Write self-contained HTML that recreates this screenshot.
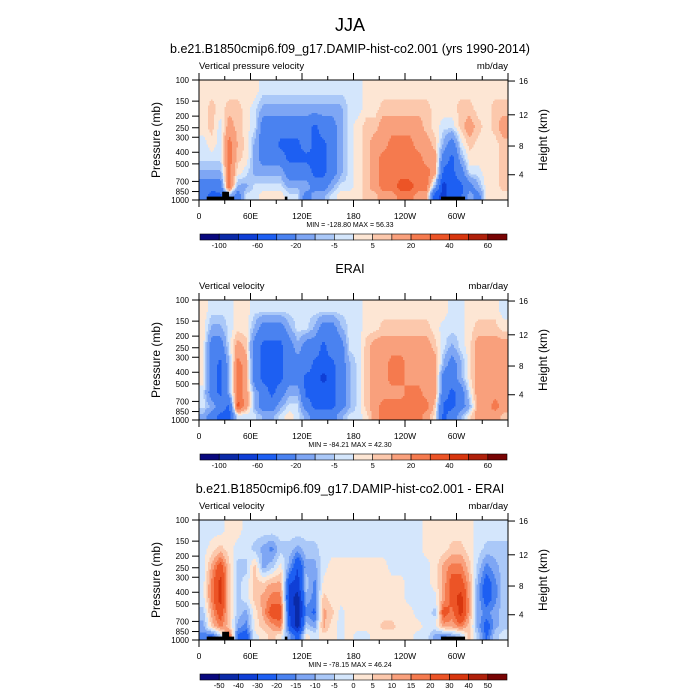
<!DOCTYPE html>
<html><head><meta charset="utf-8"><style>
html,body{margin:0;padding:0;background:#fff}
svg{display:block;font-family:"Liberation Sans",sans-serif}
</style></head><body>
<svg id="fig" width="700" height="700" viewBox="0 0 700 700">
<text x="350" y="31" text-anchor="middle" font-size="18">JJA</text>
</svg>
<script>
// ---- data ----
const colors = ["#08087e","#0a2aa8","#0f3fd6","#1d5ff2","#4a82f0","#7ea6f4","#aac8f8","#d4e6fc","#fde6d4","#fcc8ac","#f9a07c","#f57a4e","#ec5426","#d8360e","#b0200a","#780404"];
const levelsAbs = [-100,-80,-60,-40,-20,-10,-5,0,5,10,20,30,40,50,60];
const labelsAbs = ["-100","","-60","","-20","","-5","","5","","20","","40","","60"];
const levelsDiff = [-50,-40,-30,-20,-15,-10,-5,0,5,10,15,20,30,40,50];
const labelsDiff = ["-50","-40","-30","-20","-15","-10","-5","0","5","10","15","20","30","40","50"];
const pressureEdges = [100,150,200,300,400,500,700,850,1000];
const pTicks = [100,150,200,250,300,400,500,700,850,1000];
const hTicks = [4,8,12,16];
const hTickP = [616,355,195,102];
const lonTicks = [0,60,120,180,240,300];
const lonLabels = ["0","60E","120E","180","120W","60W"];
// columns: 10-degree bins 0..360; each row lists values from 100mb (top) to 1000mb
const model = [
[3,3,3,-3,-3,-12,-30,-30],[3,7,7,3,-3,-12,-30,-50],[3,3,-3,-3,-3,-12,-30,-45],[3,7,15,25,25,25,30,-12],
[3,7,7,10,7,3,-12,-30],[3,3,3,3,3,-3,-12,-3],[3,-3,-3,-12,-12,-12,-3,-3],[-3,-12,-30,-30,-30,-12,-3,3],
[-3,-12,-30,-30,-30,-12,-3,3],[-3,-12,-30,-45,-30,-12,-3,3],[-3,-12,-30,-45,-45,-30,-12,-3],[-3,-12,-30,-45,-45,-30,-12,-3],
[-3,-12,-30,-30,-45,-30,-12,-30],[-3,-12,-45,-45,-45,-45,-30,-12],[-3,-12,-30,-45,-45,-45,-30,-12],[-3,-12,-30,-30,-30,-30,-12,-3],
[-3,-12,-12,-12,-12,-12,-3,3],[-3,-3,-3,-3,-3,-3,-3,3],[-3,-3,3,3,3,3,3,3],[3,3,7,7,7,7,7,7],
[3,3,7,15,15,15,15,7],[3,7,15,15,25,25,25,15],[3,7,15,25,25,25,25,15],[3,7,15,25,25,25,35,25],
[3,7,15,25,25,25,35,25],[3,7,15,15,25,25,25,15],[3,7,7,15,15,25,25,15],[3,3,3,7,15,15,-12,-50],
[3,3,-3,-12,-30,-45,-70,-70],[3,3,-3,-30,-45,-45,-45,-45],[3,7,7,-3,-12,-30,-45,-45],[3,7,15,7,3,-3,-30,-12],
[3,3,7,3,3,-3,-12,-30],[3,3,3,3,3,3,3,3],[3,7,7,3,3,3,3,3],[3,7,15,7,7,7,7,3]];
const erai = [
[3,3,3,3,3,-3,-3,-12],[-3,-12,-30,-30,-30,-30,-12,-30],[-3,-12,-30,-45,-45,-45,-30,-45],[-3,-3,-3,-12,-12,-12,-45,-45],
[3,3,15,25,25,25,35,-3],[3,3,7,15,15,15,15,-3],[-3,-12,-30,-30,-30,-12,-12,-3],[-3,-30,-45,-45,-45,-30,-30,-12],
[-3,-30,-45,-45,-45,-45,-30,-12],[-3,-30,-45,-45,-45,-30,-12,-3],[-3,-12,-30,-30,-30,-12,-3,3],[-3,-3,-12,-30,-30,-12,-3,-3],
[-3,-3,-30,-30,-45,-45,-30,-12],[-3,-12,-30,-45,-45,-45,-45,-30],[-3,-30,-45,-45,-70,-45,-45,-30],[-3,-30,-30,-45,-45,-45,-45,-30],
[-3,-12,-30,-30,-30,-30,-30,-12],[-3,-3,-3,-12,-12,-12,-12,-3],[-3,-3,-3,-3,-3,-3,-3,-3],[3,3,7,7,7,7,7,3],
[3,3,15,15,15,15,15,15],[3,7,15,15,15,15,25,25],[3,7,15,25,25,15,25,25],[3,7,15,25,25,15,25,25],
[3,7,15,15,15,25,25,25],[3,7,15,15,15,25,25,25],[3,7,15,15,15,15,25,15],[3,3,7,15,15,15,7,3],
[3,-3,-3,-12,-30,-30,-45,-45],[-3,-3,-12,-30,-30,-45,-45,-30],[-3,-3,-3,-12,-12,-30,-30,-12],[3,3,3,3,3,-3,-12,3],
[3,7,15,15,15,15,15,15],[3,7,15,15,15,15,15,15],[3,7,15,15,15,15,25,15],[-3,3,15,15,15,15,15,7]];
const diff = [
[-2,-2,-2,-2,-2,-7,-12,-17],[-2,2,12,17,17,12,7,-22],[-2,7,25,35,35,25,17,-7],[2,2,7,7,7,7,7,25],
[2,-2,-7,-7,-7,-7,-12,-22],[-2,-2,-7,-2,-2,-12,-17,-25],[-2,-7,7,7,7,2,2,-2],[-2,-12,-12,7,12,12,7,2],
[-2,-17,-7,12,17,25,12,7],[-2,-7,2,12,17,25,17,2],[-2,-7,-12,-30,-35,-30,-25,-12],[-2,-12,-30,-35,-45,-45,-45,-25],
[-2,-7,-12,-7,-12,-17,-7,2],[-2,-7,-12,-17,-17,-22,-12,-2],[-2,-2,-2,2,7,12,12,2],[-2,-2,2,2,2,7,2,2],
[-2,-2,2,2,2,-2,-2,-2],[-2,-2,2,2,2,2,2,2],[-2,-2,2,2,2,2,2,-2],[-2,-2,2,2,2,2,2,-2],
[-2,-2,2,2,2,2,2,2],[-2,-2,2,2,2,2,7,2],[-2,-2,-2,2,2,2,7,2],[-2,-2,-2,2,2,2,2,2],
[-2,-2,-2,-2,-2,2,2,2],[-2,-2,-2,-2,-2,-2,2,-2],[2,2,-2,-2,-2,-2,-2,-2],[2,2,2,2,-2,-7,-2,-12],
[2,2,12,12,12,25,12,-17],[2,7,17,25,25,17,12,-12],[2,7,17,25,35,35,17,-7],[2,2,7,12,12,12,7,7],
[-2,-2,-7,-12,-12,-12,-12,-7],[-2,-7,-17,-25,-25,-17,-25,-22],[-2,-7,-12,-17,-17,-12,-12,-7],[-2,-7,-7,-7,-7,-7,-7,-2]];
// land: [lonStart, lonEnd, pTop]
const landLon0 = [9,27,100,282];
const landLon1 = [41,35,103,310];
const landPTop = [937,854,937,937];
const panelTitles = ["b.e21.B1850cmip6.f09_g17.DAMIP-hist-co2.001 (yrs 1990-2014)","ERAI","b.e21.B1850cmip6.f09_g17.DAMIP-hist-co2.001 - ERAI"];
const leftStrings = ["Vertical pressure velocity","Vertical velocity","Vertical velocity"];
const rightStrings = ["mb/day","mbar/day","mbar/day"];
const minMax = ["MIN = -128.80  MAX =  56.33","MIN = -84.21  MAX =  42.30","MIN = -78.15  MAX =  46.24"];

// ---- rendering ----
const NS="http://www.w3.org/2000/svg";
const svg=document.getElementById('fig');
function mk(tag,attrs,parent){const e=document.createElementNS(NS,tag);for(const k in attrs)e.setAttribute(k,attrs[k]);(parent||svg).appendChild(e);return e;}
const X0=199,X1=508,PH=120;
const xOf=lon=>X0+lon*(X1-X0)/360;
function colorIdx(v,lv){let i=0;while(i<lv.length&&v>=lv[i])i++;return i;}
const rowCenters=[];for(let r=0;r<8;r++)rowCenters.push(Math.sqrt(pressureEdges[r]*pressureEdges[r+1]));

function drawPanel(k,top,data,levels,labels,land){
  const yOf=p=>top+PH*Math.log10(p/100);
  const g=mk('g',{});
  
  
  const t=mk('text',{x:350,y:top-27,'text-anchor':'middle','font-size':12.5},g);t.textContent=panelTitles[k];
  
  const ls=mk('text',{x:X0,y:top-11,'font-size':9.5},g);ls.textContent=leftStrings[k];
  
  const rs=mk('text',{x:X1,y:top-11,'font-size':9.5,'text-anchor':'end'},g);rs.textContent=rightStrings[k];
  
  const field=mk('g',{},g);
  
  const rc=rowCenters.map(p=>Math.log10(p));
  const step=1.5;
  for(let y=top;y<top+PH;y+=step){
    const lp=2+(y+step/2-top)/PH;
    let r=0;while(r<6&&lp>rc[r+1])r++;
    let fr=(lp-rc[r])/(rc[r+1]-rc[r]);fr=Math.max(0,Math.min(1,fr));
    let runStart=X0,runC=-1;
    for(let x=X0;x<=X1;x+=step){
      let ci=-1;
      if(x<X1){
        const lon=(x+step/2-X0)*360/(X1-X0);
        let cf=(lon-5)/10;let c=Math.floor(cf);let fc=cf-c;
        const c0=Math.max(0,Math.min(35,c)),c1=Math.max(0,Math.min(35,c+1));
        const v=(1-fc)*((1-fr)*data[c0][r]+fr*data[c0][r+1])+fc*((1-fr)*data[c1][r]+fr*data[c1][r+1]);
        ci=colorIdx(v,levels);
      }
      if(ci!==runC){
        if(runC>=0){const re=mk('rect',{x:runStart,y:y,width:Math.min(x,X1)-runStart+0.4,height:step+0.4,fill:colors[runC]},field);
          }
        runStart=x;runC=ci;
      }
    }
  }
  if(land){
    for(let i=0;i<landLon0.length;i++){
      const re=mk('rect',{x:xOf(landLon0[i]),y:yOf(landPTop[i]),width:xOf(landLon1[i])-xOf(landLon0[i]),height:top+PH-yOf(landPTop[i]),fill:'#000'},g);
      
    }
  }
  const fr2=mk('rect',{x:X0,y:top,width:X1-X0,height:PH,fill:'none',stroke:'#000','stroke-width':1},g);
  
  for(let lon=0;lon<=360;lon+=30){
    const maj=lon%60===0,len=maj?7:4,x=xOf(lon);
    mk('line',{x1:x,x2:x,y1:top+PH,y2:top+PH+len,stroke:'#000'},g);
    mk('line',{x1:x,x2:x,y1:top,y2:top-len,stroke:'#000'},g);
  }
  lonTicks.forEach((lon,i)=>{const tx=mk('text',{x:xOf(lon),y:top+PH+19,'text-anchor':'middle','font-size':8.5},g);tx.textContent=lonLabels[i];
    });
  pTicks.forEach(p=>{const y=yOf(p);mk('line',{x1:X0-7,x2:X0,y1:y,y2:y,stroke:'#000'},g);
    const tx=mk('text',{x:X0-10,y:y+3,'text-anchor':'end','font-size':8},g);tx.textContent=p;
    });
  hTicks.forEach((h,i)=>{const y=yOf(hTickP[i]);mk('line',{x1:X1,x2:X1+7,y1:y,y2:y,stroke:'#000'},g);
    const tx=mk('text',{x:X1+11,y:y+3,'font-size':8},g);tx.textContent=h;
    });
  const ya=mk('text',{x:0,y:0,'text-anchor':'middle','font-size':12,transform:`translate(160,${top+PH/2}) rotate(-90)`},g);ya.textContent='Pressure (mb)';
  
  const ha=mk('text',{x:0,y:0,'text-anchor':'middle','font-size':12,transform:`translate(547,${top+PH/2}) rotate(-90)`},g);ha.textContent='Height (km)';
  
  const mm=mk('text',{x:350,y:top+PH+27,'text-anchor':'middle','font-size':7},g);mm.textContent=minMax[k];
  
  const cb=mk('g',{},g);
  const cx0=200,cx1=507,cy=top+PH+34,bw=(cx1-cx0)/colors.length;
  colors.forEach((c,i)=>{const re=mk('rect',{x:cx0+i*bw,y:cy,width:bw,height:6,fill:c,stroke:'#000','stroke-width':0.6},cb);
    });
  labels.forEach((l,i)=>{if(!l)return;const tx=mk('text',{x:cx0+(i+1)*bw,y:cy+14,'text-anchor':'middle','font-size':7.5},cb);tx.textContent=l;
    });
}
drawPanel(0,80,model,levelsAbs,labelsAbs,true);
drawPanel(1,300,erai,levelsAbs,labelsAbs,false);
drawPanel(2,520,diff,levelsDiff,labelsDiff,true);
</script>
</body></html>
